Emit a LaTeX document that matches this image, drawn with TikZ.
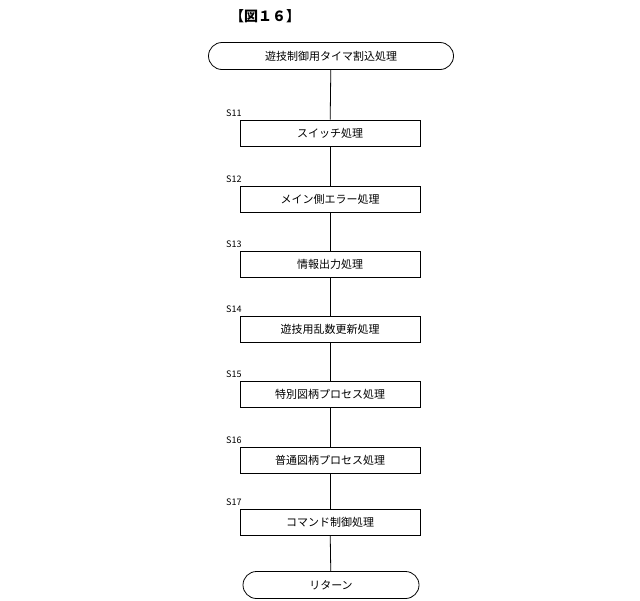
\documentclass[tikz,border=0pt]{standalone}
\usepackage{fontspec}
\setmainfont{Noto Sans CJK JP}
\usetikzlibrary{shapes.misc}

\begin{document}
\begin{tikzpicture}[x=1pt,y=-1pt,
every node/.style={inner sep=1pt, font=\fontsize{11}{13}\selectfont},
procbox/.style={draw, line width=0.8pt, minimum width=180pt, minimum height=26pt},
termbox/.style={draw, line width=0.8pt, rounded rectangle, minimum height=27pt},
steplabel/.style={anchor=south west, font=\fontsize{9}{11}\selectfont}
]
\useasboundingbox (0,0) rectangle (640,600);
\node (title) at (265,16) {\fontsize{14}{16}\selectfont\bfseries 【図１６】};
\node[termbox, minimum width=247pt] (start) at (331,56) {遊技制御用タイマ割込処理};
\foreach \n/\y/\t in {11/133/スイッチ処理, 12/199/メイン側エラー処理, 13/264/情報出力処理,
                      14/329/遊技用乱数更新処理, 15/394/特別図柄プロセス処理,
                      16/460/普通図柄プロセス処理, 17/522/コマンド制御処理}
{
    \node[procbox] (s\n) at (330,\y) {\t};
    \node[steplabel] (l\n) at (225,\y-15) {S\n};
}
\node[termbox, minimum width=178pt] (end) at (331,585) {リターン};

\foreach \i/\j in {start/s11, s11/s12, s12/s13, s13/s14, s14/s15, s15/s16, s16/s17, s17/end}
    \draw [line width=0.8pt] (\i) -- (\j);
\end{tikzpicture}
\end{document}
